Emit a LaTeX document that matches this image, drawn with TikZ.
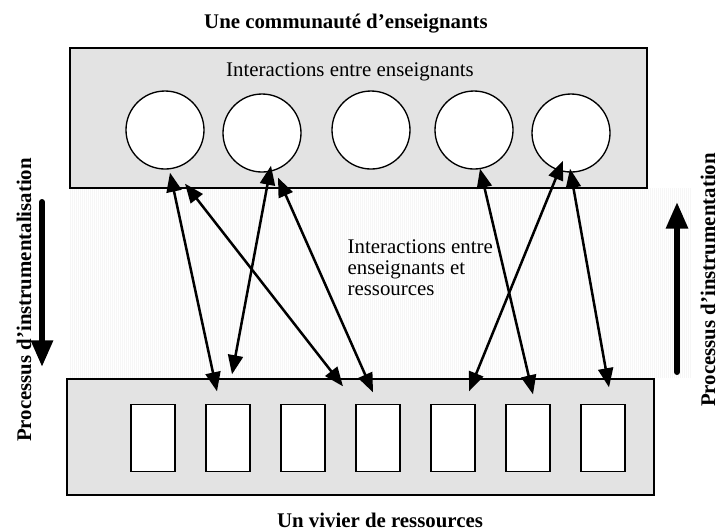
\documentclass[tikz,border=0pt]{standalone}
\usepackage{fontspec}
\setmainfont{Liberation Serif}
\usepackage{xcolor}
\usepackage{tikz}
\usetikzlibrary{arrows.meta,positioning,calc}
\definecolor{PoolGray}{HTML}{E3E3E3}
\definecolor{ZoneGray}{HTML}{F6F6F6}

\begin{document}
\begin{tikzpicture}[x=0.6pt,y=-0.6pt,line width=0.8pt,
    every node/.style={font=\fontsize{12.5}{12.6}\selectfont},
    zone/.style={draw,fill=PoolGray,line width=0.9pt,inner sep=0pt},
    teacher/.style={circle,draw,fill=white,minimum size=46.8pt,inner sep=0pt},
    resource/.style={rectangle,draw,fill=white,minimum width=26.4pt,minimum height=40.2pt,inner sep=0pt},
    link/.style={{Triangle[length=11.5pt,width=9pt]}-{Triangle[length=11.5pt,width=9pt]},line width=1.5pt},
    process/.style={-{Triangle[length=16pt,width=12.6pt]},line width=3.6pt,line cap=round}]
  \useasboundingbox (0,0) rectangle (720,530);
  \fill[ZoneGray] (70,188) rectangle (692,378);
  \foreach \x in {71,73,...,691}
    \draw[white,line width=0.3pt] (\x,188) -- (\x,378);
  \node[zone,minimum width=346.2pt,minimum height=84pt] (comm) at (358.5,118) {};
  \node[zone,minimum width=352.2pt,minimum height=69.6pt] (vivier) at (360.5,437) {};
  \node[anchor=base] (commlabel) at (346,28.5) {\bfseries Une communauté d’enseignants};
  \node[anchor=base] (vivierlabel) at (380,527) {\bfseries Un vivier de ressources};
  \node[anchor=base] (intens) at (350,76) {Interactions entre enseignants};
  \node[align=left,anchor=north west,inner sep=0pt] (intres) at (347,239)
      {Interactions entre\\enseignants et\\ressources};
  \node[rotate=90] (instrlisation) at (24,300) {\bfseries Processus d’instrumentalisation};
  \node[rotate=90] (instrtation) at (708,280) {\bfseries Processus d’instrumentation};
  \draw[process] (42,202) -- (42,367);
  \draw[process] (677,372) -- (677,202);
  \foreach \n/\x/\y in {1/165/130,2/262/133,3/371/130,4/474/130,5/571/133}
    \node[teacher] (e\n) at (\x,\y) {};
  \foreach \n in {1,...,7}
    \node[resource] (r\n) at ({78+75*\n},438) {};
  \draw[link] ([shift={(5,3)}]e1.south) -- ([shift={(-11,-12.5)}]r2.north);
  \draw[link] ([shift={(20,14)}]e1.south) -- ([shift={(-35,-17.5)}]r4.north);
  \draw[link] ([shift={(9,-7)}]e2.south) -- ([shift={(4,-29.5)}]r2.north);
  \draw[link] ([shift={(16,5)}]e2.south) -- ([shift={(-5,-11.5)}]r4.north);
  \draw[link] ([shift={(6,-1)}]e4.south) -- ([shift={(5,-9.5)}]r6.north);
  \draw[link] ([shift={(-8,-12)}]e5.south) -- ([shift={(16,-12.5)}]r5.north);
  \draw[link] ([shift={(-1,-4)}]e5.south) -- ([shift={(6,-16.5)}]r7.north);
\end{tikzpicture}
\end{document}
